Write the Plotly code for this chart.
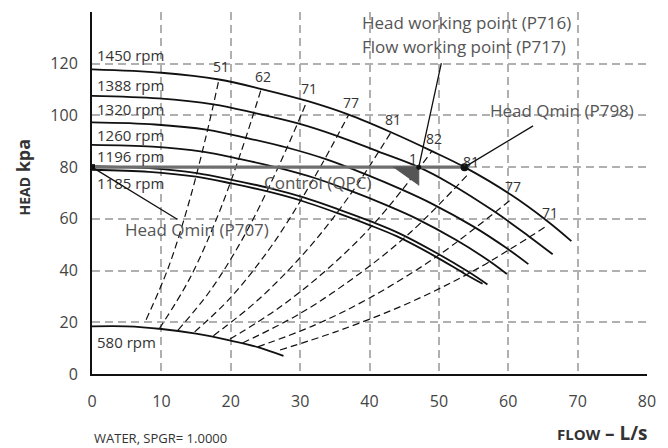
import plotly.graph_objects as go

FONT = "Open Sans"
INK = "#111111"
TXT = "#444444"

# pump head curves, flow (L/s) vs head (kPa)
q_1450 = [0, 10, 18.3, 24.6, 31.0, 37.0, 43.1, 49.0, 53.7, 60.4, 65.7, 69.1]
h_1450 = [117.8, 116.5, 113.9, 110.1, 105.6, 100.3, 93.5, 86.2, 80.0, 69.3, 59.0, 51.4]
q_1388 = [0, 9.6, 17.5, 23.5, 29.7, 35.4, 41.3, 47.1, 51.4, 57.8, 62.9, 66.4]
h_1388 = [107.6, 106.6, 104.3, 100.9, 96.9, 92.0, 86.0, 80.0, 74.0, 63.2, 53.4, 46.3]
q_1320 = [0, 9.1, 16.7, 22.4, 28.2, 33.7, 39.2, 44.6, 48.9, 55.0, 59.8, 62.9]
h_1320 = [97.3, 96.5, 94.4, 91.2, 87.5, 83.1, 77.5, 71.4, 66.0, 57.0, 48.6, 42.5]
q_1260 = [0, 8.7, 15.9, 21.4, 26.9, 32.2, 37.5, 42.6, 46.7, 52.5, 57.1, 59.8]
h_1260 = [88.6, 87.9, 86.0, 83.1, 79.7, 75.7, 70.6, 65.1, 60.2, 51.8, 44.0, 38.7]
q_1196 = [0, 8.2, 15.1, 20.3, 25.6, 30.5, 35.5, 40.4, 44.3, 49.8, 54.2, 57.0]
h_1196 = [80.4, 79.6, 77.7, 75.0, 71.9, 68.3, 63.7, 58.8, 54.4, 46.6, 39.6, 34.6]
q_1185 = [0, 8.2, 15.0, 20.1, 25.3, 30.2, 35.2, 40.0, 43.9, 49.4, 53.7, 56.3]
h_1185 = [79.0, 78.2, 76.3, 73.7, 70.6, 67.0, 62.4, 57.6, 53.3, 45.6, 38.8, 34.9]
q_580 = [0, 5, 10, 15, 20, 24, 27.6]
h_580 = [18.4, 18.4, 17.4, 15.6, 12.9, 10.3, 7.0]
speed_labels = ["1450 rpm", "1388 rpm", "1320 rpm", "1260 rpm", "1196 rpm", "1185 rpm", "580 rpm"]

# iso-efficiency lines (%)
eff_values = [51, 62, 71, 77, 81, 82, 81, 77, 71]
eff_q = [
    [7.8, 11, 14, 16.5, 18.3],
    [9.7, 14, 18, 21.5, 24.4],
    [12.4, 17, 22, 27, 31.0],
    [14.8, 20, 26, 32, 37.0],
    [17.5, 24, 31, 37, 43.1],
    [19.9, 27, 34, 41, 49.0],
    [21.7, 30, 38.6, 46, 54.3],
    [23.9, 32, 40, 50, 60.4],
    [27.1, 35, 45, 55, 65.7],
]
eff_h = [
    [21.0, 41.1, 66.6, 92.6, 113.9],
    [17.5, 36.5, 60.3, 86.0, 110.3],
    [17.0, 32.1, 53.7, 80.9, 105.6],
    [16.3, 29.6, 50.0, 75.8, 100.3],
    [14.8, 28.8, 48.0, 68.5, 93.5],
    [13.5, 25.7, 40.7, 59.2, 86.2],
    [12.0, 23.4, 38.9, 55.0, 77.5],
    [10.5, 18.8, 29.4, 46.0, 67.5],
    [9.3, 16.2, 26.7, 39.9, 57.5],
]

# axis ticks
x_ticks = [0, 10, 20, 30, 40, 50, 60, 70, 80]
y_ticks = [0, 20, 40, 60, 80, 100, 120, 140]
y_tick_text = ["0", "20", "40", "60", "80", "100", "120", ""]

# control points
head_setpoint = 80
flow_working = 47.1
flow_qmin = 53.7
tri_q = [43.4, 47.1, 47.1]
tri_h = [80, 80, 72.9]

curves = [
    (q_1450, h_1450), (q_1388, h_1388), (q_1320, h_1320), (q_1260, h_1260),
    (q_1196, h_1196), (q_1185, h_1185), (q_580, h_580),
]

fig = go.Figure()

for q, h in zip(eff_q, eff_h):
    fig.add_trace(go.Scatter(
        x=q, y=h, mode="lines", line_shape="spline",
        line=dict(color=INK, width=1.2, dash="7px,4px"),
        hoverinfo="skip",
    ))

for q, h in curves:
    fig.add_trace(go.Scatter(
        x=q, y=h, mode="lines", line_shape="spline",
        line=dict(color=INK, width=1.8),
        hoverinfo="skip",
    ))

# control line and triangle
fig.add_trace(go.Scatter(
    x=[0, flow_qmin], y=[head_setpoint, head_setpoint], mode="lines",
    line=dict(color="#6e6e6e", width=3.2), hoverinfo="skip",
))
fig.add_trace(go.Scatter(
    x=tri_q, y=tri_h, mode="lines", fill="toself", fillcolor="#555555",
    line=dict(color="#555555", width=1), hoverinfo="skip",
))
fig.add_trace(go.Scatter(
    x=[flow_qmin], y=[head_setpoint], mode="markers",
    marker=dict(color=INK, size=8), hoverinfo="skip",
))
fig.add_trace(go.Scatter(
    x=[flow_working], y=[head_setpoint], mode="markers",
    marker=dict(color=INK, size=5), hoverinfo="skip",
))
fig.add_trace(go.Scatter(
    x=[0], y=[head_setpoint], mode="markers",
    marker=dict(color=INK, size=6, symbol="square"), hoverinfo="skip",
))

annotations = []

# rpm labels on the left
rpm_y = [123.4, 111.8, 102.4, 92.4, 84.3, 73.7, 12.5]
for label, y in zip(speed_labels, rpm_y):
    annotations.append(dict(
        x=0.4, y=y, text=label, showarrow=False, xanchor="left", yanchor="middle",
        font=dict(family=FONT, size=15, color="#333333"),
    ))

# efficiency labels at the top end of each line
for val, q, h in zip(eff_values, eff_q, eff_h):
    annotations.append(dict(
        x=q[-1], y=h[-1], text=str(val), showarrow=False,
        xanchor="center", yanchor="bottom", xshift=2, yshift=1,
        font=dict(family=FONT, size=14, color="#333333"),
    ))

annotations.append(dict(
    x=flow_working, y=head_setpoint, text="1", showarrow=False,
    xanchor="center", yanchor="bottom", xshift=-6, yshift=-3,
    font=dict(family=FONT, size=14, color="#333333"),
))

# leader lines
for tip, tail in [((flow_working, head_setpoint), (50.4, 120.8)),
                  ((flow_qmin, head_setpoint), (63.8, 96.3)),
                  ((0, head_setpoint), (12.5, 59.5))]:
    annotations.append(dict(
        x=tip[0], y=tip[1], ax=tail[0], ay=tail[1], axref="x", ayref="y",
        text="", showarrow=True, arrowhead=0, arrowwidth=1.3, arrowcolor=INK,
        standoff=0, startstandoff=0,
    ))

note_font = dict(family=FONT, size=17, color="#555555")
for text, x, y in [("Head working point (P716)", 38.6, 135.8),
                   ("Flow working point (P717)", 38.6, 126.6),
                   ("Head Qmin (P798)", 57.1, 102.1),
                   ("Head Qmin (P707)", 4.4, 55.7),
                   ("Control (QPC)", 24.5, 74.1)]:
    annotations.append(dict(
        x=x, y=y, text=text, showarrow=False, xanchor="left", yanchor="middle",
        font=note_font,
    ))

# axis titles and footnote
annotations += [
    dict(x=-0.1234, y=0.544, xref="paper", yref="paper", textangle=-90,
         text="<b><span style='font-size:14px'>HEAD</span> kpa</b>",
         showarrow=False, xanchor="center", yanchor="middle",
         font=dict(family=FONT, size=18, color="#333333")),
    dict(x=1.005, y=-0.164, xref="paper", yref="paper",
         text="<b><span style='font-size:15px'>FLOW</span> – L/s</b>",
         showarrow=False, xanchor="right", yanchor="middle",
         font=dict(family=FONT, size=19, color="#333333")),
    dict(x=0.0, y=-0.176, xref="paper", yref="paper",
         text="WATER, SPGR= 1.0000", showarrow=False,
         xanchor="left", yanchor="middle",
         font=dict(family=FONT, size=13, color="#333333")),
]

grid = dict(showgrid=True, gridcolor="#b0b0b0", griddash="8px,5px", gridwidth=1.5)

# page body has an 8px margin, so the figure is sized to fit inside it
fig.update_layout(
    width=660,
    height=440,
    margin=dict(l=84, r=21, t=4, b=74),
    paper_bgcolor="white",
    plot_bgcolor="white",
    showlegend=False,
    font=dict(family=FONT, size=16, color=TXT),
    annotations=annotations,
    xaxis=dict(
        range=[0, 80], tickvals=x_ticks, **grid,
        showline=True, linecolor=INK, linewidth=2, zeroline=False,
        ticks="outside", ticklen=12, tickcolor="rgba(0,0,0,0)",
        tickfont=dict(family=FONT, size=16, color=TXT), automargin=False,
    ),
    yaxis=dict(
        range=[0, 140], tickvals=y_ticks, ticktext=y_tick_text, **grid,
        showline=True, linecolor=INK, linewidth=2, zeroline=False,
        ticks="outside", ticklen=9, tickcolor="rgba(0,0,0,0)",
        tickfont=dict(family=FONT, size=16, color=TXT), automargin=False,
    ),
)

fig.write_html("out.html")
